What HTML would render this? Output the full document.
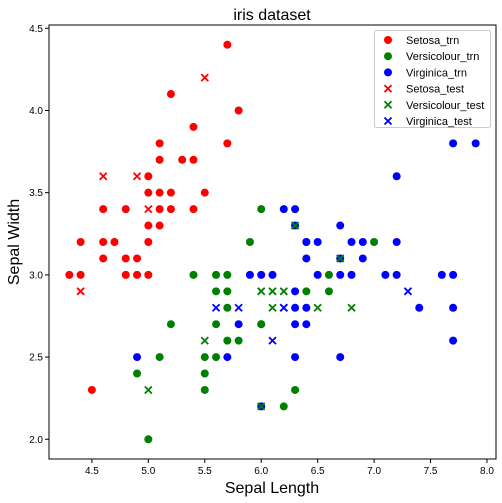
<!DOCTYPE html>
<html><head><meta charset="utf-8"><style>
html,body{margin:0;padding:0;background:#fff;}
svg{display:block;font-family:"Liberation Sans","DejaVu Sans",sans-serif;}
</style></head><body>
<svg id="chart" width="502" height="503" viewBox="0 0 502 503" xmlns="http://www.w3.org/2000/svg">
<rect width="502" height="503" fill="#fff"/>
<text x="272" y="20" font-size="16" text-anchor="middle">iris dataset</text>
<g id="marks"></g>
<rect x="49" y="25" width="447" height="434" fill="none" stroke="#000" stroke-width="1"/>
<g id="xticks"></g>
<g id="yticks"></g>
<text x="272" y="493" font-size="16" text-anchor="middle">Sepal Length</text>
<text x="19" y="242" font-size="16" text-anchor="middle" transform="rotate(-90 19 242)">Sepal Width</text>
<g>
<rect x="374.5" y="30.5" width="116" height="97" rx="2" fill="#fff" fill-opacity="0.8" stroke="#ccc"/>
<g id="legend-items"></g>
</g>
</svg>
<script>
const setosaTrnX=[5.7,5.2,5.8,5.4,5.1,5.7,5.1,5.3,5.4,5.0,5.0,5.1,5.2,5.5,4.6,4.8,5.1,5.2,5.4,5.0,5.1,4.4,4.6,4.7,5.0,4.6,4.8,4.9,4.3,4.4,4.8,4.9,5.0,4.5];
const setosaTrnY=[4.4,4.1,4.0,3.9,3.8,3.8,3.7,3.7,3.7,3.6,3.5,3.5,3.5,3.5,3.4,3.4,3.4,3.4,3.4,3.3,3.3,3.2,3.2,3.2,3.2,3.1,3.1,3.1,3.0,3.0,3.0,3.0,3.0,2.3];
const setosaTstX=[5.5,4.6,4.9,5.0,4.4];
const setosaTstY=[4.2,3.6,3.6,3.4,2.9];
const versiTrnX=[6.0,5.9,6.4,7.0,6.6,5.4,5.6,5.7,5.6,5.7,6.4,6.6,5.7,5.2,5.6,6.0,6.0,5.7,5.8,5.1,5.5,5.6,4.9,5.5,5.5,6.3,6.2,5.0];
const versiTrnY=[3.4,3.2,3.2,3.2,3.0,3.0,3.0,3.0,2.9,2.9,2.9,2.9,2.8,2.7,2.7,2.7,2.7,2.6,2.6,2.5,2.5,2.5,2.4,2.4,2.3,2.3,2.2,2.0];
const versiTstX=[6.3,6.7,6.0,6.1,6.2,6.1,6.5,6.8,5.5,5.0,6.0];
const versiTstY=[3.3,3.1,2.9,2.9,2.9,2.8,2.8,2.8,2.6,2.3,2.2];
const virgTrnX=[7.7,7.9,7.2,6.2,6.3,6.3,6.7,6.4,6.5,6.8,6.9,7.2,6.4,6.7,6.9,5.9,6.0,6.1,6.5,6.7,6.8,7.1,7.2,7.6,7.7,6.3,6.3,6.4,7.4,7.7,6.3,6.4,5.8,7.7,4.9,5.7,6.3,6.7,6.0];
const virgTrnY=[3.8,3.8,3.6,3.4,3.4,3.3,3.3,3.2,3.2,3.2,3.2,3.2,3.1,3.1,3.1,3.0,3.0,3.0,3.0,3.0,3.0,3.0,3.0,3.0,3.0,2.9,2.8,2.8,2.8,2.8,2.7,2.7,2.7,2.6,2.5,2.5,2.5,2.5,2.2];
const virgTstX=[7.3,5.6,5.8,6.2,6.2,6.1];
const virgTstY=[2.9,2.8,2.8,2.8,2.8,2.6];
const xTickVals=[4.5,5.0,5.5,6.0,6.5,7.0,7.5,8.0];
const yTickVals=[2.0,2.5,3.0,3.5,4.0,4.5];
const legendLabels=["Setosa_trn","Versicolour_trn","Virginica_trn","Setosa_test","Versicolour_test","Virginica_test"];

const NS="http://www.w3.org/2000/svg";
const X0=49,X1=496,Y0=25,Y1=459,XMIN=4.12,XMAX=8.08,YMIN=1.88,YMAX=4.52;
function sx(v){return X0+(v-XMIN)/(XMAX-XMIN)*(X1-X0);}
function sy(v){return Y1-(v-YMIN)/(YMAX-YMIN)*(Y1-Y0);}
function mk(tag,attrs,parent){const e=document.createElementNS(NS,tag);for(const k in attrs)e.setAttribute(k,attrs[k]);parent.appendChild(e);return e;}
const marks=document.getElementById('marks');
function circle(parent,cx,cy,color){const c=mk('circle',{cx:cx,cy:cy,r:4,fill:color},parent);return c;}
function cross(parent,cx,cy,color){const g=mk('path',{d:`M${cx-3.5},${cy-3.5}L${cx+3.5},${cy+3.5}M${cx-3.5},${cy+3.5}L${cx+3.5},${cy-3.5}`,stroke:color,'stroke-width':1.8,fill:'none'},parent);return g;}
function series(xs,ys,color,kind,name){
  const g=mk('g',{},marks);
  
  
  for(let i=0;i<xs.length;i++){
    const e=kind==='o'?circle(g,sx(xs[i]),sy(ys[i]),color):cross(g,sx(xs[i]),sy(ys[i]),color);
    
    
  }
}
series(setosaTrnX,setosaTrnY,'#ff0000','o','setosa-trn');
series(versiTrnX,versiTrnY,'#008000','o','versicolour-trn');
series(virgTrnX,virgTrnY,'#0000ff','o','virginica-trn');
series(setosaTstX,setosaTstY,'#ff0000','x','setosa-test');
series(versiTstX,versiTstY,'#008000','x','versicolour-test');
series(virgTstX,virgTstY,'#0000ff','x','virginica-test');

const xt=document.getElementById('xticks');
xTickVals.forEach(v=>{
  const x=sx(v);
  const l=mk('line',{x1:x,x2:x,y1:Y1,y2:Y1+4,stroke:'#000'},xt);
  
  
  const t=mk('text',{x:x,y:Y1+15,'font-size':10,'text-anchor':'middle'},xt);
  t.textContent=v.toFixed(1);
  
  
});
const yt=document.getElementById('yticks');
yTickVals.forEach(v=>{
  const y=sy(v);
  const l=mk('line',{x1:X0-4,x2:X0,y1:y,y2:y,stroke:'#000'},yt);
  
  
  const t=mk('text',{x:X0-6,y:y+3.5,'font-size':10,'text-anchor':'end'},yt);
  t.textContent=v.toFixed(1);
  
  
});
const lg=document.getElementById('legend-items');
const lcol=['#ff0000','#008000','#0000ff','#ff0000','#008000','#0000ff'];
legendLabels.forEach((lab,i)=>{
  const y=40+i*16.2;
  const g=mk('g',{},lg);
  
  
  if(i<3)circle(g,388,y,lcol[i]);else cross(g,388,y,lcol[i]);
  const t=mk('text',{x:406,y:y+4,'font-size':11},g);
  t.textContent=lab;
});
</script>
</body></html>
